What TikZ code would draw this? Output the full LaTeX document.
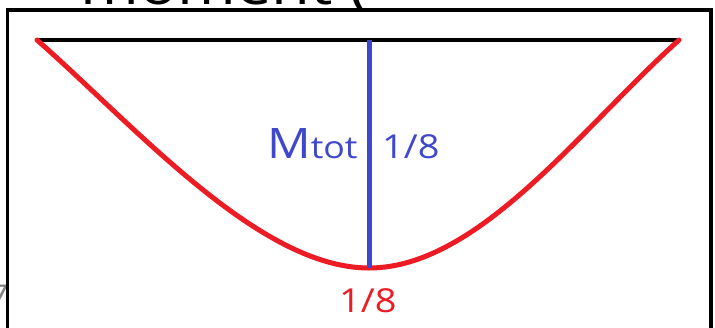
\documentclass[tikz,border=0pt]{standalone}
\usepackage{fontspec}
\setmainfont{Open Sans}[FakeStretch=1.15]
\definecolor{paintred}{RGB}{237,28,36}
\definecolor{paintblue}{RGB}{63,72,204}
\begin{document}
\begin{tikzpicture}[x=1pt,y=-1pt,
  beam/.style={line width=4.5pt},
  momentline/.style={paintred,line width=5pt,line cap=round},
  ordinate/.style={paintblue,line width=5pt},
  lbl/.style={inner sep=0pt,anchor=base west}]
\useasboundingbox (0,0) rectangle (715,327);
% cut-off text round the frame
\node[lbl] (head) at (80,4.5) {\fontsize{55}{60}\selectfont moment (};
\node[inner sep=0pt,anchor=base east,gray] (seven) at (9,306) {\fontsize{30}{34}\selectfont 7};
\draw[line width=3.3pt,fill=white] (7.5,450) -- (7.5,10) -- (711,10) -- (711,450);
\coordinate (left) at (37,40);
\coordinate (right) at (679,40);
\coordinate (top) at (369,40);
\coordinate (bottom) at (369,268);
\draw[beam] (left) -- (right);
\draw[momentline] (left) .. controls (135,126) and (259,268) .. (bottom)
  .. controls (479,268) and (582,127) .. (right);
\draw[ordinate] (top) -- (bottom);
\node[lbl,paintblue] (mtot) at (267,158) {\fontsize{42}{44}\selectfont M\fontsize{31}{34}\selectfont tot};
\node[lbl,paintblue] (midval) at (382,158) {\fontsize{33}{36}\selectfont 1/8};
\node[lbl,paintred] (botval) at (339,312) {\fontsize{33}{36}\selectfont 1/8};
\end{tikzpicture}
\end{document}
